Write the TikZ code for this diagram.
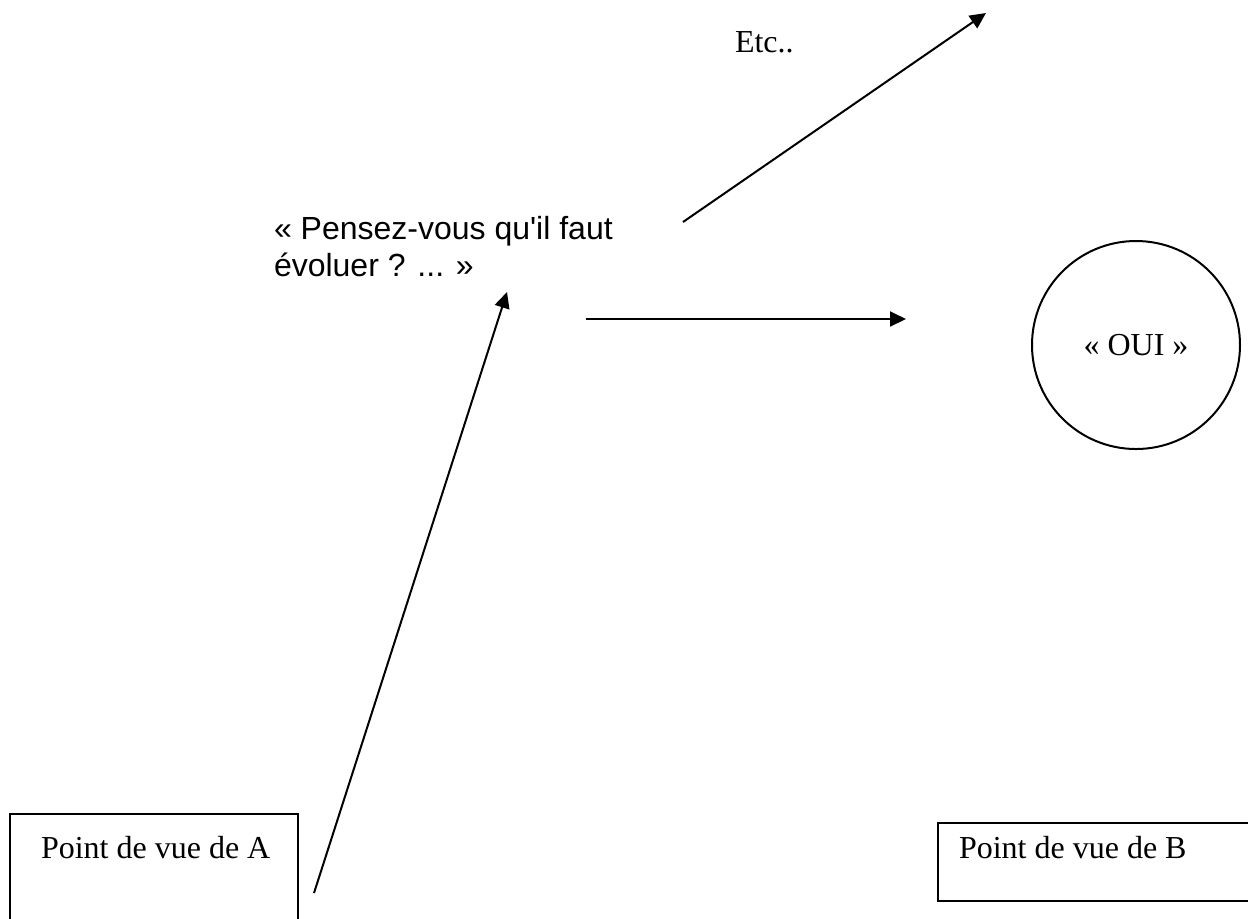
\documentclass[tikz,border=0pt]{standalone}
\usepackage{fontspec}
\setmainfont{Liberation Serif}
\newfontfamily\qfont{Liberation Sans}[Ligatures=TeXOff]
\usetikzlibrary{arrows.meta}
\begin{document}
\begin{tikzpicture}[x=0.5pt,y=-0.5pt,
  line width=1pt,
  link/.style={-{Triangle[length=8pt,width=7.5pt]}},
  frame/.style={draw, line width=1pt},
  serif/.style={font=\fontsize{16}{18.4}\selectfont, inner sep=0pt},
  sans/.style={font=\qfont\fontsize{16}{18.4}\selectfont, inner sep=0pt, align=left}]
\useasboundingbox (0,0) rectangle (1248,918);
\clip (0,0) rectangle (1248,918);

% the two viewpoint boxes (both run off the page edge)
\draw[frame] (10,960) -- (10,814) -- (298,814) -- (298,960);
\draw[frame] (1270,823) -- (938,823) -- (938,901) -- (1270,901);
\node[serif, anchor=base west] (ptA) at (40,858) {Point de vue de A};
\node[serif, anchor=base west] (ptB) at (958,858) {Point de vue de B};

% question, answer and continuation
\node[sans, anchor=north west] (quest) at (273,215) {« Pensez-vous qu'il faut\\évoluer ? ... »};
\node[serif, anchor=base west] (etc) at (734,52) {Etc..};
\node[circle, draw, line width=1pt, minimum size=104pt, inner sep=0pt, serif] (oui) at (1136,345) {« OUI »};

% arrow end points
\coordinate (a1s) at (683,222);
\coordinate (a1e) at (986,13);
\coordinate (a2s) at (586,319);
\coordinate (a2e) at (906,319);
\coordinate (a3s) at (314,893);
\coordinate (a3e) at (507,292);

\draw[link] (a3s) -- (a3e);
\draw[link] (a2s) -- (a2e);
\draw[link] (a1s) -- (a1e);
\end{tikzpicture}
\end{document}
